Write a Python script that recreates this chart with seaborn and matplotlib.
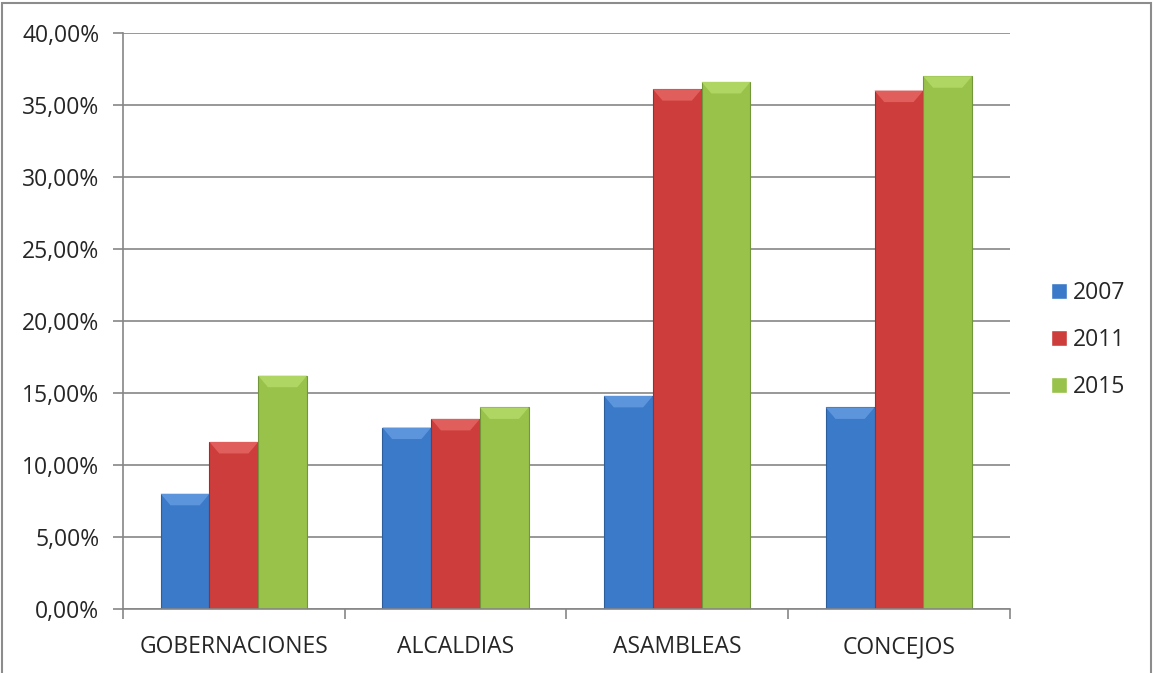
import pandas as pd
import matplotlib
matplotlib.use("Agg")
import matplotlib.pyplot as plt
import seaborn as sns
from matplotlib.ticker import FuncFormatter, FixedLocator
from matplotlib.patches import Rectangle, Polygon

# datos
categorias = ["GOBERNACIONES", "ALCALDIAS", "ASAMBLEAS", "CONCEJOS"]
anios = ["2007", "2011", "2015"]
v2007 = [8.0, 12.6, 14.8, 14.0]
v2011 = [11.6, 13.2, 36.1, 36.0]
v2015 = [16.2, 14.0, 36.6, 37.0]

colores = ["#3B7AC8", "#CC3D3B", "#98C249"]
claros = ["#5C95DC", "#E05E5C", "#AFD663"]
bordes = ["#2C5E9E", "#9E2C2A", "#72963A"]

df = pd.DataFrame({
    "categoria": categorias * 3,
    "anio": [a for a in anios for _ in categorias],
    "valor": v2007 + v2011 + v2015,
})

sns.set_style("white")
plt.rcParams["font.family"] = ["Open Sans", "DejaVu Sans"]

fig = plt.figure(figsize=(11.54, 6.73), dpi=100)
ax = fig.add_axes([0.1066, 0.0951, 0.875 - 0.1066, 0.951 - 0.0951])

sns.barplot(data=df, x="categoria", y="valor", hue="anio", order=categorias,
            hue_order=anios, palette=colores, width=0.66, gap=0,
            saturation=1, ax=ax, legend=True)

# bordes y bisel superior de las barras
for cont, ec, cl in zip(ax.containers, bordes, claros):
    for p in cont:
        p.set_edgecolor(ec)
        p.set_linewidth(0.8)
        x0, w, h = p.get_x(), p.get_width(), p.get_height()
        dx, dy = w * 0.2, 0.8
        ax.add_patch(Polygon([(x0, h), (x0 + w, h), (x0 + w - dx, h - dy), (x0 + dx, h - dy)],
                             closed=True, facecolor=cl, edgecolor="none", zorder=p.get_zorder() + 0.1))

ax.set_ylim(0, 40)
ax.set_xlim(-0.5, len(categorias) - 0.5)
ax.set_yticks(range(0, 41, 5))
ax.yaxis.set_major_formatter(FuncFormatter(lambda v, _: f"{v:.2f}%".replace(".", ",")))
ax.yaxis.grid(True, color="#868686", linewidth=1.2)
ax.set_axisbelow(True)
ax.set_xlabel("")
ax.set_ylabel("")

ax.xaxis.set_minor_locator(FixedLocator([i - 0.5 for i in range(len(categorias) + 1)]))
ax.tick_params(axis="x", which="major", length=0, pad=19, labelsize=16.5)
ax.tick_params(axis="x", which="minor", length=7, width=1.2, color="#868686", direction="out", bottom=True)
ax.tick_params(axis="y", length=7, width=1.2, color="#868686", direction="out", pad=10,
               labelsize=16.5, left=True)

for s in ["top", "right"]:
    ax.spines[s].set_visible(False)
for s in ["left", "bottom"]:
    ax.spines[s].set_color("#868686")
    ax.spines[s].set_linewidth(1.2)

leg = ax.legend(loc="center left", bbox_to_anchor=(1.046, 0.467), frameon=False,
                fontsize=16.5, handlelength=0.72, handleheight=0.72, handletextpad=0.25,
                labelspacing=1.0, borderpad=0, borderaxespad=0)

fig.patches.append(Rectangle((0.002, -0.05), 0.995, 1.045, transform=fig.transFigure,
                             fill=False, edgecolor="#8C8C8C", linewidth=1.5))

fig.savefig("out.png", dpi=100)
